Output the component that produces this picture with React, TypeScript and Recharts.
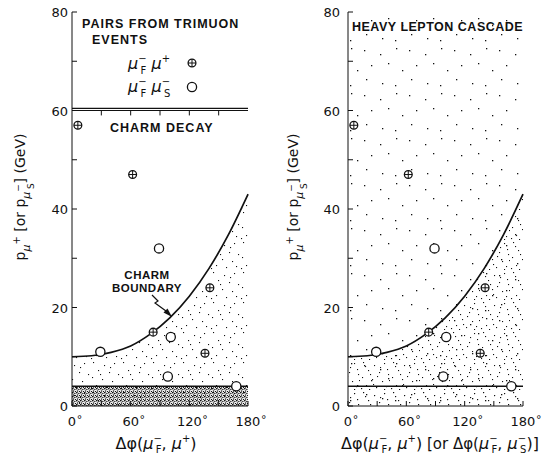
import React from 'react';
import {
  ComposedChart, Line, Area, Scatter, XAxis, YAxis, ReferenceLine, ReferenceArea,
} from 'recharts';

// charm boundary curve
const boundaryAngle = [0, 20, 40, 60, 80, 100, 120, 140, 160, 180];
const boundaryP = [10, 10.2, 10.9, 12.2, 14.6, 17.9, 22.3, 27.9, 34.8, 43];

// mu_F- mu+ pairs (crossed circles)
const plusAngle = [6, 62, 83, 141, 136];
const plusP = [57, 47, 15, 24, 10.7];

// mu_F- mu_S- pairs (open circles)
const minusAngle = [29, 89, 101, 98, 168];
const minusP = [11, 32, 14, 6, 4];

const xTicks = [0, 30, 60, 90, 120, 150, 180];
const yTicks = [0, 10, 20, 30, 40, 50, 60, 70, 80];
const cutP = 4;
const boxP = 60;

const boundary = boundaryAngle.map((x, i) => ({ x, y: boundaryP[i] }));
const plusPts = plusAngle.map((x, i) => ({ x, y: plusP[i] }));
const minusPts = minusAngle.map((x, i) => ({ x, y: minusP[i] }));

const FONT = '"DejaVu Sans", "Liberation Sans", Arial, sans-serif';
const LABEL_FONT = '"Liberation Sans", Arial, sans-serif';

// stipple texture tiles (purely decorative)
const stipDots = [
  [3, 2], [14, 5], [24, 3], [8, 10], [19, 12], [28, 14], [2, 17], [12, 19],
  [22, 21], [6, 25], [16, 27], [26, 26], [10, 14], [20, 7], [1, 28],
];
const stipExtra = [[5, 6], [17, 16], [27, 9], [13, 24], [24, 29], [9, 29], [29, 20]];
const sparseDots = [[4, 5], [20, 9], [36, 3], [11, 20], [28, 18], [42, 25], [6, 34], [22, 38], [35, 40]];

const PlusDot = (props: any) => {
  const { cx, cy } = props;
  return (
    <g>
      <circle cx={cx} cy={cy} r={3.9} fill="#fff" stroke="#111" strokeWidth={1.3} />
      <line x1={cx - 3.9} x2={cx + 3.9} y1={cy} y2={cy} stroke="#111" strokeWidth={1} />
      <line x1={cx} x2={cx} y1={cy - 3.9} y2={cy + 3.9} stroke="#111" strokeWidth={1} />
    </g>
  );
};

const OpenDot = (props: any) => {
  const { cx, cy } = props;
  return <circle cx={cx} cy={cy} r={4.6} fill="#fff" stroke="#111" strokeWidth={1.3} />;
};

const DegTick = (props: any) => {
  const { x, y, payload } = props;
  const v = payload.value;
  if (v % 60 !== 0) return <g />;
  const s = String(v);
  const w = s.length * 8.3;
  return (
    <g fontFamily={FONT} fill="#111">
      <text x={x} y={y} dy={12} textAnchor="middle" fontSize={13}>{s}</text>
      <text x={x + w / 2 + 0.5} y={y} dy={9} fontSize={11}>°</text>
    </g>
  );
};

const PTick = (props: any) => {
  const { x, y, payload } = props;
  const v = payload.value;
  if (v % 20 !== 0) return <g />;
  return (
    <text x={x} y={y} dy={5} textAnchor="end" fontSize={13} fontFamily={FONT} fill="#111">{v}</text>
  );
};

const dots = (list: number[][], s: number) =>
  list.map(([x, y], i) => <rect key={i} x={x} y={y} width={s} height={s} fill="#111" />);

const Patterns = () => (
  <defs>
    <pattern id="stipL" width={30} height={30} patternUnits="userSpaceOnUse">
      {dots(stipDots, 1.1)}
    </pattern>
    <pattern id="stipR" width={30} height={30} patternUnits="userSpaceOnUse">
      {dots(stipDots, 1.1)}
      {dots(stipExtra, 1.1)}
    </pattern>
    <pattern id="dense" width={4} height={4} patternUnits="userSpaceOnUse">
      <rect x={0} y={0} width={1.6} height={1.4} fill="#111" />
      <rect x={2.2} y={0.8} width={1.3} height={1.3} fill="#111" />
      <rect x={0.8} y={2.4} width={1.4} height={1.3} fill="#111" />
      <rect x={3} y={3} width={1} height={1} fill="#111" />
    </pattern>
    <pattern id="sparse" width={45} height={45} patternUnits="userSpaceOnUse">
      {dots(sparseDots, 1.3)}
    </pattern>
  </defs>
);

const Panel: React.FC<{ side: 'left' | 'right' }> = ({ side }) => {
  const isLeft = side === 'left';
  return (
    <ComposedChart
      width={isLeft ? 270 : 277}
      height={461}
      margin={isLeft ? { top: 12, right: 22, bottom: 25, left: 42 } : { top: 12, right: 24, bottom: 25, left: 48 }}
    >
      <Patterns />
      <XAxis
        type="number" dataKey="x" domain={[0, 180]} ticks={xTicks} height={30}
        stroke="#111" tickSize={-5} tickMargin={13} tick={<DegTick />} interval={0}
      />
      <XAxis
        xAxisId="top" orientation="top" type="number" dataKey="x" domain={[0, 180]} ticks={xTicks}
        height={0} stroke="#111" tickSize={-5} tickLine={!isLeft} tickFormatter={() => ''}
      />
      <YAxis
        type="number" domain={[0, 80]} ticks={yTicks} width={30} stroke="#111"
        tickSize={-5} tickMargin={isLeft ? 9 : 13} tick={<PTick />} interval={0}
      />
      <YAxis
        yAxisId="r" orientation="right" type="number" domain={[0, 80]} ticks={yTicks} width={0}
        stroke="#111" tickSize={-5} tickFormatter={() => ''} interval={0}
      />
      {!isLeft && (
        <ReferenceArea x1={0} x2={180} y1={0} y2={80} fill="url(#sparse)" fillOpacity={1} stroke="none" />
      )}
      <Area
        data={boundary} dataKey="y" type="monotone" stroke="none"
        fill={isLeft ? 'url(#stipL)' : 'url(#stipR)'} fillOpacity={1} isAnimationActive={false}
      />
      <ReferenceArea
        x1={0} x2={180} y1={0} y2={cutP}
        fill={isLeft ? 'url(#dense)' : 'url(#stipR)'} fillOpacity={1} stroke="none"
      />
      <ReferenceLine y={cutP} stroke="#111" strokeWidth={1.6} />
      {isLeft && <ReferenceLine y={boxP} stroke="#111" strokeWidth={1.2} />}
      {isLeft && <ReferenceLine y={boxP + 0.45} stroke="#111" strokeWidth={1.2} />}
      {isLeft && xTicks.slice(1, -1).map((t) => (
        <ReferenceLine key={t} segment={[{ x: t, y: boxP }, { x: t, y: boxP - 1 }]} stroke="#111" strokeWidth={1} />
      ))}
      <Line
        data={boundary} dataKey="y" type="monotone" stroke="#111" strokeWidth={1.7}
        dot={false} isAnimationActive={false}
      />
      <Scatter data={plusPts} dataKey="y" shape={<PlusDot />} isAnimationActive={false} />
      <Scatter data={minusPts} dataKey="y" shape={<OpenDot />} isAnimationActive={false} />
    </ComposedChart>
  );
};

const Mu: React.FC<{ sup: string; sub?: string }> = ({ sup, sub }) => (
  <>
    <tspan fontStyle="italic">μ</tspan>
    <tspan dy={-7} fontSize={10}>{sup}</tspan>
    {sub ? <tspan dx={-6} dy={12} fontSize={10}>{sub}</tspan> : null}
    {sub ? <tspan dy={-5}> </tspan> : <tspan dy={7}> </tspan>}
  </>
);

const YTitle: React.FC<{ cx: number }> = ({ cx }) => (
  <text
    transform={`translate(${cx},197) rotate(-90)`} textAnchor="middle"
    fontFamily={FONT} fontSize={14} fill="#111"
  >
    <tspan>p</tspan>
    <tspan dy={5} fontSize={11} fontStyle="italic">μ</tspan>
    <tspan dy={-10} fontSize={10}>+</tspan>
    <tspan dy={5}> [or p</tspan>
    <tspan dy={5} fontSize={11} fontStyle="italic">μ</tspan>
    <tspan dy={-9} fontSize={9}>−</tspan>
    <tspan dx={-5} dy={13} fontSize={9}>S</tspan>
    <tspan dy={-9}>]    (GeV)</tspan>
  </text>
);

const XTitle: React.FC<{ x: number; full: boolean }> = ({ x, full }) => (
  <text x={x} y={449} textAnchor="middle" fontFamily={FONT} fontSize={16} fill="#111">
    <tspan>Δφ(</tspan>
    <tspan fontStyle="italic">μ</tspan>
    <tspan dy={-7} fontSize={10}>−</tspan>
    <tspan dx={-6} dy={11} fontSize={10}>F</tspan>
    <tspan dy={-4}>, </tspan>
    <tspan fontStyle="italic">μ</tspan>
    <tspan dy={-7} fontSize={10}>+</tspan>
    <tspan dy={7}>)</tspan>
    {full && (
      <>
        <tspan fontSize={15}> [or Δφ(</tspan>
        <tspan fontStyle="italic">μ</tspan>
        <tspan dy={-7} fontSize={10}>−</tspan>
        <tspan dx={-6} dy={11} fontSize={10}>F</tspan>
        <tspan dy={-4}>, </tspan>
        <tspan fontStyle="italic">μ</tspan>
        <tspan dy={-7} fontSize={10}>−</tspan>
        <tspan dx={-6} dy={11} fontSize={10}>S</tspan>
        <tspan dy={-4}>)]</tspan>
      </>
    )}
  </text>
);

const Notes = () => (
  <svg width={547} height={461} style={{ position: 'absolute', left: 0, top: 0, pointerEvents: 'none' }}>
    <g fontFamily={LABEL_FONT} fontWeight="bold" fontSize={12.5} fill="#111" letterSpacing={1}>
      <text x={82} y={28}>PAIRS FROM TRIMUON</text>
      <text x={92} y={44}>EVENTS</text>
      <text x={110} y={132}>CHARM DECAY</text>
      <text x={147} y={279} textAnchor="middle" fontSize={11.5} letterSpacing={0.5}>CHARM</text>
      <text x={147} y={292} textAnchor="middle" fontSize={11.5} letterSpacing={0.5}>BOUNDARY</text>
      <text x={352} y={31} letterSpacing={0.5}>HEAVY LEPTON CASCADE</text>
    </g>
    <text x={128} y={69} fontFamily={FONT} fontSize={16} fill="#111">
      <Mu sup="−" sub="F" />
      <Mu sup="+" />
    </text>
    <text x={128} y={92} fontFamily={FONT} fontSize={16} fill="#111">
      <Mu sup="−" sub="F" />
      <Mu sup="−" sub="S" />
    </text>
    <PlusDot cx={192} cy={63} />
    <OpenDot cx={192} cy={87} />
    <path d="M152 295 L158 301 L155 303 L166 311" fill="none" stroke="#111" strokeWidth={1.2} />
    <path d="M172 317 L163.5 312.5 L167.5 308.5 Z" fill="#111" />
    <YTitle cx={25} />
    <YTitle cx={298} />
    <XTitle x={156} full={false} />
    <XTitle x={440} full={true} />
  </svg>
);

export default function App() {
  return (
    <div style={{ position: 'absolute', left: 0, top: 0, width: 547, height: 461, background: '#fff' }}>
      <div style={{ position: 'absolute', left: 0, top: 0 }}>
        <Panel side="left" />
      </div>
      <div style={{ position: 'absolute', left: 270, top: 0 }}>
        <Panel side="right" />
      </div>
      <Notes />
    </div>
  );
}
